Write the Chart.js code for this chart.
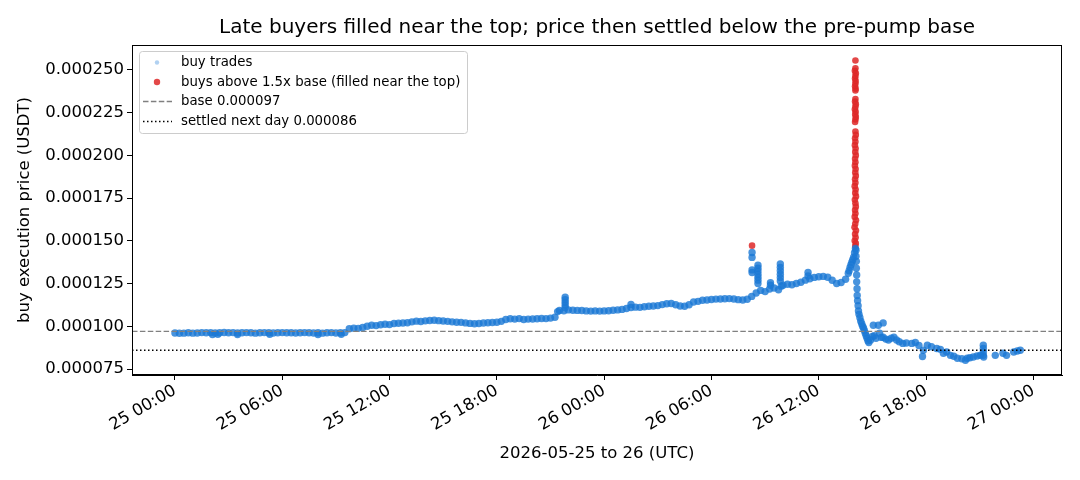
<!DOCTYPE html>
<html><head><meta charset="utf-8">
<script src="https://cdn.jsdelivr.net/npm/chart.js@4.4.1/dist/chart.umd.min.js"></script>
<style>html,body{margin:0;padding:0;background:#fff}#wrap{width:1080px;height:480px}</style>
</head><body><div id="wrap"><canvas id="c" width="1080" height="480"></canvas></div>
<script>
const chartTitle = 'Late buyers filled near the top; price then settled below the pre-pump base';
const xAxisTitle = '2026-05-25 to 26 (UTC)';
const yAxisTitle = 'buy execution price (USDT)';
const xTickHours = [0, 6, 12, 18, 24, 30, 36, 42, 48];
const xTickLabels = ['25 00:00','25 06:00','25 12:00','25 18:00','26 00:00','26 06:00','26 12:00','26 18:00','27 00:00'];
const legendLabels = ['buy trades','buys above 1.5x base (filled near the top)','base 0.000097','settled next day 0.000086'];
const basePrice = 0.000097;
const settledPrice = 0.000086;

// [hours since 2026-05-25 00:00 UTC, price in 1e-6 USDT]
const buysFlat = [
[0,96.1],[0.25,95.9],[0.5,96.0],[0.75,96.2],[1,96.0],[1.25,96.1],[1.5,96.3],[1.75,96.2],[2,96.3],[2.25,96.1],
[2.5,96.2],[2.75,96.4],[3,96.2],[3.25,96.3],[3.5,96.1],[3.75,96.2],[4,96.3],[4.25,96.2],[4.5,96.0],[4.75,96.2],
[5,96.3],[5.25,96.2],[5.5,96.1],[5.75,96.2],[6,96.3],[6.25,96.2],[6.5,96.2],[6.75,96.1],[7,96.2],[7.25,96.3],
[7.5,96.2],[7.75,96.1],[8,96.2],[8.25,96.0],[8.5,96.2],[8.75,96.3],[9,96.1],[9.25,96.2],[9.5,96.3],
[2.1,95.2],[2.4,95.3],[3.5,95.2],[5.3,95.3],[8.0,95.2],[9.3,95.3]
];
const buysDrift = [
[9.75,98.6],[10,98.9],[10.25,98.8],[10.5,99.3],[10.75,100.0],[11,100.6],[11.25,100.4],[11.5,100.9],[11.75,101.2],[12,101.0],
[12.25,101.6],[12.5,101.8],[12.75,101.9],[13,102.1],[13.25,102.6],[13.5,103.0],[13.75,102.8],[14,103.2],[14.25,103.4],[14.5,103.5],
[14.75,103.3],[15,103.1],[15.25,102.9],[15.5,102.6],[15.75,102.4],[16,102.3],[16.25,102.0],[16.5,101.7],[16.75,101.5],[17,101.6],
[17.25,101.9],[17.5,102.1],[17.75,102.2],[18,102.4],[18.25,102.9],[18.5,104.0],[18.75,104.4],[19,104.2],[19.25,104.5],[19.5,104.0],
[19.75,104.2],[20,104.3],[20.25,104.4],[20.5,104.6],[20.75,104.5],[21,104.8],[21.25,105.3]
];
const buysRun = [
[21.4,108.6],[21.5,109.3],[21.75,109.1],[22,109.6],[22.25,109.4],[22.5,109.3],[22.75,109.2],[23,109.0],[23.25,108.9],[23.5,109.0],
[23.75,108.9],[24,109.0],[24.25,109.1],[24.5,109.4],[24.75,109.6],[25,109.9],[25.25,110.4],[25.5,111.0],[25.75,111.2],[26,111.1],
[26.25,111.4],[26.5,111.7],[26.75,111.9],[27,112.1],[27.25,112.7],[27.5,113.2],[27.75,113.3],[28,112.6],[28.25,111.9],[28.5,111.7],
[28.75,112.6],[29,114.2],[29.25,114.6],[29.5,115.2],[29.75,115.4],[30,115.7],[30.25,115.9],[30.5,116.0],[30.75,116.1],[31,116.2],
[31.25,116.0],[31.5,115.6],[31.75,115.4],[32,115.8],[32.25,117.5],[32.5,119.5],[32.75,121.0],[33,120.3],[33.25,121.8],[33.5,122.4],
[33.75,121.4],[33.9,123.5],[34,124.0],[34.25,124.6],[34.5,124.3],[34.75,125.0],[35,125.8],[35.25,127.0],[35.5,127.8],[35.75,128.6],
[36,129.0],[36.25,129.2],[36.5,128.7],[36.75,126.9],[37,125.0],[37.25,125.6],[37.5,127.5],[37.65,131.0],[37.75,134.5],[37.85,137.5],
[37.95,140.5],[38.0,143.0],[38.05,145.5]
];
const buysSpikes = [
[21.82,117.0],[21.82,115.5],[21.82,114.0],[21.82,112.5],[21.82,111.0],
[25.5,112.8],
[32.27,143.2],[32.27,140.3],[32.27,133.0],[32.27,131.5],
[32.6,135.7],[32.6,134.0],[32.6,132.3],[32.6,130.5],[32.6,128.7],[32.6,127.0],[32.6,125.0],
[33.3,125.5],[33.3,124.0],
[33.85,136.5],[33.85,134.5],[33.85,132.5],[33.85,130.5],[33.85,128.5],[33.85,126.5],
[35.4,131.5],[35.4,129.5],
[37.7,132.5],[37.8,136.0],[37.9,139.0]
];
const buysAfter = [
[38.08,144.5],[38.08,141.0],[38.1,138.0],[38.1,134.0],[38.12,130.0],[38.12,126.0],[38.14,122.0],[38.15,118.0],[38.17,115.0],[38.2,112.0],
[38.22,109.0],[38.25,107.0],[38.3,105.0],[38.35,103.0],[38.4,101.5],[38.45,100.0],[38.5,99.0],[38.55,97.5],[38.6,96.0],[38.65,94.5],
[38.7,93.0],[38.75,91.5],[38.8,90.5],[38.9,92.0],[39.0,94.0],[39.05,100.6],[39.1,94.5],[39.2,93.0],[39.33,100.6],[39.4,96.0],
[39.5,93.5],[39.6,102.0],[39.6,93.6],[39.75,92.5],[39.9,92.0],[40.05,93.0],[40.2,93.6],[40.35,92.0],[40.5,91.0],[40.7,90.0],
[40.9,90.2],[41.2,90.0],[41.4,90.5],[41.6,88.8],[41.8,82.3],[41.85,86.0],[42.07,88.9],[42.3,88.0],[42.6,87.0],[42.8,86.5],
[42.97,84.2],[43.15,85.0],[43.36,83.0],[43.55,82.5],[43.75,81.3],[44.0,81.0],[44.2,80.1],[44.3,81.3],[44.45,81.6],[44.64,82.0],
[44.85,82.6],[45.03,83.0],[45.2,88.9],[45.2,87.0],[45.2,85.0],[45.2,83.0],[45.22,82.0],[45.87,83.0],[46.3,84.2],[46.5,83.0],
[46.9,85.0],[47.1,85.5],[47.27,86.0]
];
const topFills = [
[32.27,147.2],
[38.05,255.5],[38.05,251.0],[38.02,249.5],[38.07,248.0],[38.05,246.5],[38.03,245.0],[38.06,243.5],[38.05,242.0],[38.03,240.5],[38.06,239.0],[38.05,238.0],
[38.05,233.0],[38.03,231.5],[38.07,230.0],[38.05,228.5],[38.02,227.0],[38.06,225.5],[38.04,224.0],[38.07,222.5],[38.05,221.0],[38.03,219.5],
[38.05,214.0],[38.07,212.0],[38.03,210.0],[38.05,208.0],[38.02,206.0],[38.06,204.0],[38.04,202.0],[38.07,200.0],[38.03,198.0],[38.05,196.0],
[38.02,194.0],[38.06,192.0],[38.04,190.0],[38.07,188.0],[38.03,186.0],[38.05,184.0],[38.01,182.0],[38.06,180.0],[38.04,178.0],[38.08,176.0],
[38.02,174.0],[38.05,172.0],[38.07,170.0],[38.03,168.0],[38.05,166.0],[38.01,164.0],[38.08,162.0],[38.04,160.0],[38.0,158.0],[38.08,156.0],
[38.03,154.0],[38.06,152.0],[38.01,150.0],[38.07,148.5],[38.04,147.0]
];

const E6 = 1e-6;
const toPts = arr => arr.map(p => ({x: p[0], y: p[1] * E6}));
const buyPoints = [].concat(toPts(buysFlat), toPts(buysDrift), toPts(buysRun), toPts(buysSpikes), toPts(buysAfter));
const topPoints = toPts(topFills);

const FONT = 'DejaVu Sans';
const blueCol = 'rgba(26,120,212,0.8)';
const redCol = 'rgba(222,40,40,0.85)';

const overlay = {
  id: 'overlay',
  afterDatasetsDraw(chart) {
    const {ctx, chartArea: a, scales: {y}} = chart;
    ctx.save();
    ctx.beginPath(); ctx.rect(a.left, a.top, a.right - a.left, a.bottom - a.top); ctx.clip();
    const yb = y.getPixelForValue(basePrice);
    ctx.strokeStyle = '#808080'; ctx.lineWidth = 1.4; ctx.setLineDash([5.5, 2.4]);
    ctx.beginPath(); ctx.moveTo(a.left, yb); ctx.lineTo(a.right, yb); ctx.stroke();
    const ys = y.getPixelForValue(settledPrice);
    ctx.strokeStyle = '#000'; ctx.setLineDash([1.5, 2.5]);
    ctx.beginPath(); ctx.moveTo(a.left, ys); ctx.lineTo(a.right, ys); ctx.stroke();
    ctx.restore();
  },
  afterDraw(chart) {
    const {ctx, chartArea: a} = chart;
    ctx.save();
    ctx.strokeStyle = '#000'; ctx.lineWidth = 1; ctx.setLineDash([]);
    ctx.strokeRect(Math.round(a.left) + 0.5, Math.round(a.top) + 0.5, Math.round(a.right - a.left) - 1, Math.round(a.bottom - a.top) - 1);
    ctx.fillStyle = '#000'; ctx.font = '20px "' + FONT + '"'; ctx.textAlign = 'center'; ctx.textBaseline = 'middle';
    ctx.fillText(chartTitle, (a.left + a.right) / 2, 28);
    const bx = a.left + 7, by = a.top + 6, bw = 328, bh = 82;
    ctx.beginPath();
    if (ctx.roundRect) ctx.roundRect(bx + 0.5, by + 0.5, bw, bh, 3); else ctx.rect(bx + 0.5, by + 0.5, bw, bh);
    ctx.fillStyle = 'rgba(255,255,255,0.8)'; ctx.fill();
    ctx.strokeStyle = '#cccccc'; ctx.lineWidth = 1; ctx.stroke();
    const rows = [by + 11.5, by + 31, by + 50.5, by + 70.5];
    const mx = bx + 18, tx = bx + 42;
    ctx.fillStyle = 'rgba(31,122,214,0.35)';
    ctx.beginPath(); ctx.arc(mx, rows[0], 2.2, 0, Math.PI * 2); ctx.fill();
    ctx.fillStyle = redCol;
    ctx.beginPath(); ctx.arc(mx, rows[1], 3.2, 0, Math.PI * 2); ctx.fill();
    ctx.lineWidth = 1.4;
    ctx.strokeStyle = '#808080'; ctx.setLineDash([5.5, 2.4]);
    ctx.beginPath(); ctx.moveTo(bx + 4, rows[2]); ctx.lineTo(bx + 33, rows[2]); ctx.stroke();
    ctx.strokeStyle = '#000'; ctx.setLineDash([1.5, 2.5]);
    ctx.beginPath(); ctx.moveTo(bx + 4, rows[3]); ctx.lineTo(bx + 33, rows[3]); ctx.stroke();
    ctx.setLineDash([]);
    ctx.fillStyle = '#000'; ctx.font = '13.3px "' + FONT + '"'; ctx.textAlign = 'left'; ctx.textBaseline = 'middle';
    legendLabels.forEach((t, i) => ctx.fillText(t, tx, rows[i] + 0.5));
    ctx.restore();
  }
};

new Chart(document.getElementById('c'), {
  type: 'scatter',
  data: {
    datasets: [
      {label: legendLabels[0], data: buyPoints, backgroundColor: blueCol, borderWidth: 0, pointRadius: 3.7, pointHoverRadius: 3.7},
      {label: legendLabels[1], data: topPoints, backgroundColor: redCol, borderWidth: 0, pointRadius: 3.3, pointHoverRadius: 3.3}
    ]
  },
  options: {
    responsive: false, animation: false, events: [],
    layout: {padding: {top: 45, right: 18, left: 0, bottom: 0}},
    plugins: {legend: {display: false}, tooltip: {enabled: false}, title: {display: false}},
    scales: {
      x: {
        type: 'linear', min: -2.4, max: 49.6,
        afterBuildTicks: s => { s.ticks = xTickHours.map(v => ({value: v})); },
        afterFit: s => { s.height = 105; },
        ticks: {
          autoSkip: false, maxRotation: 30, minRotation: 30, padding: 1, color: '#000',
          font: {family: FONT, size: 16.5},
          callback: v => xTickLabels[xTickHours.indexOf(v)]
        },
        grid: {drawOnChartArea: false, drawTicks: true, tickLength: 5, color: '#000', tickWidth: 1},
        border: {display: true, color: '#000', width: 1},
        title: {display: true, text: xAxisTitle, color: '#000', font: {family: FONT, size: 16.5}, padding: {top: 0, bottom: 16}}
      },
      y: {
        type: 'linear', min: 71.5e-6, max: 264.6e-6,
        afterFit: s => { s.width = 132; },
        ticks: {
          stepSize: 0.000025, includeBounds: false, padding: 3, color: '#000',
          font: {family: FONT, size: 16.5},
          callback: v => Number(v).toFixed(6)
        },
        grid: {drawOnChartArea: false, drawTicks: true, tickLength: 5, color: '#000', tickWidth: 1},
        border: {display: true, color: '#000', width: 1},
        title: {display: true, text: yAxisTitle, color: '#000', font: {family: FONT, size: 16.5}, padding: {top: 14.5, bottom: 0}}
      }
    }
  },
  plugins: [overlay]
});
</script>
</body></html>
